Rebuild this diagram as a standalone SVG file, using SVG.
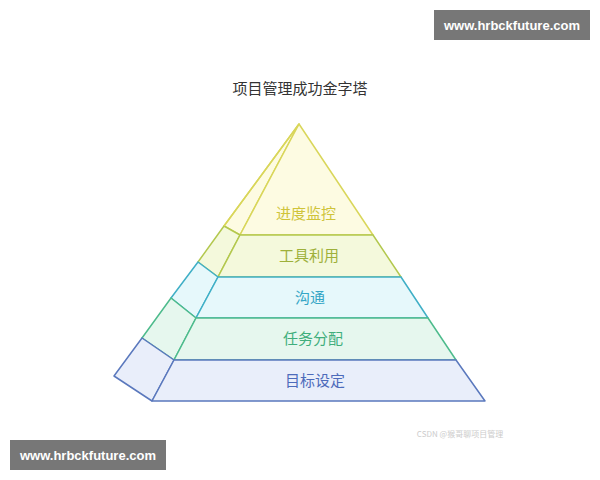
<svg xmlns="http://www.w3.org/2000/svg" width="600" height="480" viewBox="0 0 600 480">
<style>
text{font-family:"Noto Sans CJK SC","Liberation Sans",sans-serif;text-anchor:middle}
.l{font-size:15px}
.s{stroke-width:1.5;stroke-linejoin:round}
.wm{fill:#fff;font-family:"Liberation Sans",sans-serif;font-weight:bold;font-size:13px}
</style>
<rect width="600" height="480" fill="#fff"/>
<text x="300" y="94" class="l" fill="#333">项目管理成功金字塔</text>
<g id="n1"><polygon class="s" points="299,124 224,226 240,235" fill="#fdfbe2" stroke="#d9d65a"/><polygon class="s" points="299,124 373,235 240,235" fill="#fdfbe2" stroke="#d9d65a"/><text x="306" y="219" class="l" fill="#cfc43a">进度监控</text></g>
<g id="n2"><polygon class="s" points="224,226 240,235 218,277 198,262" fill="#f4f9dc" stroke="#b3c84e"/><polygon class="s" points="240,235 373,235 401,277 218,277" fill="#f4f9dc" stroke="#b3c84e"/><text x="309" y="261" class="l" fill="#9eb03a">工具利用</text></g>
<g id="n3"><polygon class="s" points="198,262 218,277 196,318 171,298" fill="#e6f8fb" stroke="#3fafc6"/><polygon class="s" points="218,277 401,277 428,318 196,318" fill="#e6f8fb" stroke="#3fafc6"/><text x="310" y="303" class="l" fill="#35a6c6">沟通</text></g>
<g id="n4"><polygon class="s" points="171,298 196,318 174,360 142,338" fill="#e6f7ee" stroke="#4dbb8c"/><polygon class="s" points="196,318 428,318 456,360 174,360" fill="#e6f7ee" stroke="#4dbb8c"/><text x="313" y="344" class="l" fill="#3fae7c">任务分配</text></g>
<g id="n5"><polygon class="s" points="142,338 174,360 152,401 114,376" fill="#e9eefa" stroke="#5a78bd"/><polygon class="s" points="174,360 456,360 485,401 152,401" fill="#e9eefa" stroke="#5a78bd"/><text x="315" y="386" class="l" fill="#4d6bbb">目标设定</text></g>
<g id="connectors"><line x1="299" y1="124" x2="224" y2="226" stroke="#d9d65a" stroke-width="1.5"/></g>
<text x="460" y="437" font-size="8" fill="#ccc">CSDN @猴哥聊项目管理</text>
<rect x="434" y="10" width="156" height="30" fill="#777"/><text x="512" y="30" class="wm">www.hrbckfuture.com</text>
<rect x="10" y="440" width="156" height="30" fill="#777"/><text x="88" y="460" class="wm">www.hrbckfuture.com</text>
</svg>
